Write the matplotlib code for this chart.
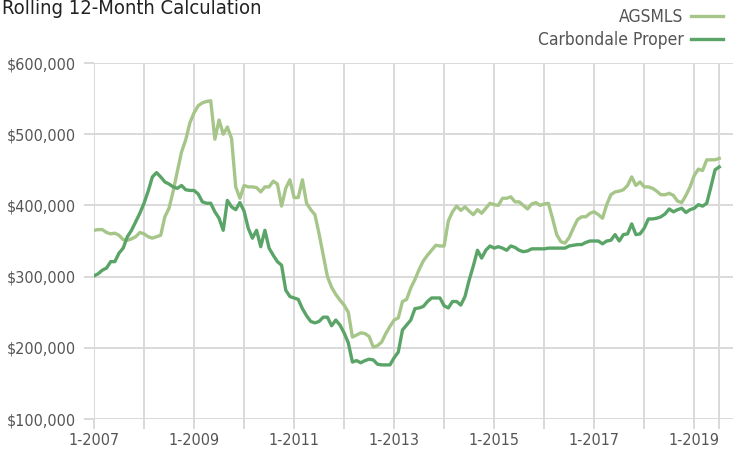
import matplotlib
matplotlib.use("Agg")
import matplotlib.pyplot as plt
from matplotlib.ticker import FuncFormatter

# monthly rolling 12-month values, 1-2007 .. 7-2019 (thousands of dollars)
AGSMLS = [
    365, 366, 366, 362, 360, 361, 358, 352, 351, 353, 356, 362,
    360, 356, 354, 356, 358, 384, 396, 420, 448, 475, 492, 516,
    530, 540, 544, 546, 547, 493, 520, 500, 510, 494, 426, 410,
    428, 426, 426, 425, 419, 426, 426, 434, 430, 399, 424, 436,
    411, 411, 436, 403, 394, 387, 360, 330, 300, 285, 275, 267,
    260, 250, 215, 218, 221, 220, 216, 201, 203, 208, 220, 230,
    239, 242, 265, 268, 284, 296, 310, 322, 330, 337, 344, 343,
    343, 378, 391, 399, 393, 398, 392, 387, 394, 389, 396, 403,
    401, 400, 410, 410, 412, 405, 405, 400, 395, 402, 404, 400,
    402, 403, 382, 359, 349, 347, 355, 368, 380, 384, 384, 389,
    391, 387, 382, 401, 415, 419, 420, 422, 428, 440, 428, 433,
    426, 426, 424, 420, 415, 415, 417, 414, 406, 404, 414, 426,
    442, 451, 449, 464, 464, 464, 466,
]
CARBONDALE = [
    301, 304, 309, 312, 321, 321, 333, 340, 356, 365, 377, 389,
    403, 420, 440, 446, 440, 433, 430, 426, 424, 428, 422, 421,
    421, 416, 405, 403, 403, 391, 382, 365, 407, 398, 394, 404,
    392, 368, 354, 365, 342, 365, 340, 330, 321, 316, 281, 272,
    270, 268, 255, 245, 237, 235, 237, 243, 243, 231, 239, 232,
    221, 207, 180, 182, 179, 182, 184, 183, 177, 176, 176, 176,
    186, 194, 225, 232, 239, 255, 256, 258, 265, 270, 270, 270,
    259, 256, 265, 265, 260, 272, 295, 315, 337, 326, 337, 343,
    340, 342, 340, 337, 343, 341, 337, 335, 336, 339, 339, 339,
    339, 340, 340, 340, 340, 340, 343, 344, 345, 345, 348, 350,
    350, 350, 346, 350, 351, 359, 350, 359, 360, 374, 359, 360,
    368, 381, 381, 382, 384, 388, 395, 391, 394, 396, 390, 394,
    396, 401, 399, 403, 426, 450, 454,
]
START_YEAR = 2007
SERIES = ["AGSMLS", "Carbondale Proper"]

C_LIGHT, C_DARK = "#a6c689", "#5ba468"
GRID = "#d9d9d9"
TXT = "#555555"

# condensed face stands in for the narrow sans of the original
plt.rcParams["font.family"] = ["DejaVu Sans"]
plt.rcParams["font.stretch"] = "condensed"

months = list(range(len(AGSMLS)))
fig = plt.figure(figsize=(7.33, 4.53), dpi=100)
ax = fig.add_axes([94 / 733, 34 / 453, 639 / 733, 356 / 453])

ax.plot(months, [v * 1000 for v in AGSMLS], color=C_LIGHT, lw=2.4,
        label=SERIES[0], solid_joinstyle="round")
ax.plot(months, [v * 1000 for v in CARBONDALE], color=C_DARK, lw=2.4,
        label=SERIES[1], solid_joinstyle="round")

ax.set_xlim(0, 153.3)
ax.set_ylim(100000, 600000)
ax.set_yticks(range(100000, 600001, 100000))
ax.yaxis.set_major_formatter(FuncFormatter(lambda v, _: f"${v:,.0f}"))

yr_ticks = list(range(0, len(AGSMLS), 12)) + [len(AGSMLS) - 1]
ax.set_xticks(yr_ticks)
ax.set_xticklabels([f"1-{START_YEAR + t // 12}" if t % 24 == 0 else ""
                    for t in yr_ticks])

ax.grid(True, color=GRID, lw=1.4)
ax.set_axisbelow(True)
for s in ax.spines.values():
    s.set_visible(False)
ax.tick_params(axis="both", color=GRID, width=1.4, length=7,
               labelcolor=TXT, labelsize=11.5)
ax.tick_params(axis="y", pad=6)
ax.tick_params(axis="x", pad=3)

fig.text(0.003, 1.003, "Rolling 12-Month Calculation", ha="left", va="top",
         fontsize=14.5, color="#222222")

fig.legend(loc="upper right", bbox_to_anchor=(1.001, 1.006), frameon=False,
           markerfirst=False, fontsize=12.5, handlelength=1.85,
           handletextpad=0.45, labelspacing=0.32, borderaxespad=0.2,
           labelcolor=TXT)

fig.savefig("out.png", dpi=100)
